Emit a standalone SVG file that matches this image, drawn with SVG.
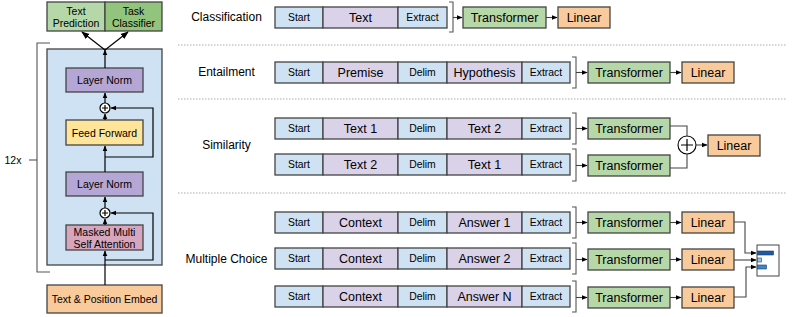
<svg xmlns="http://www.w3.org/2000/svg" width="800" height="317" viewBox="0 0 800 317">
<defs>
<marker id="ah" viewBox="0 0 10 10" refX="9" refY="5" markerWidth="6" markerHeight="6" markerUnits="userSpaceOnUse" orient="auto"><path d="M0,1 L10,5 L0,9 z" fill="#000"/></marker>
<marker id="ah2" viewBox="0 0 10 10" refX="9" refY="5" markerWidth="8" markerHeight="8" markerUnits="userSpaceOnUse" orient="auto"><path d="M0,1 L10,5 L0,9 z" fill="#000"/></marker>
</defs>
<style>
text{font-family:"Liberation Sans",Arial,sans-serif;fill:#000;text-anchor:middle;dominant-baseline:central}
.b{stroke:#444;stroke-width:1.3}
.tok{fill:#cfe2f3}
.pur{fill:#d9d2e9}
.tr{fill:#b6d7a8}
.lin{fill:#f9cb9c}
.s{font-size:10.4px}
.m{font-size:12.5px}
.t{font-size:12px}
.l{font-size:10.5px}
.ln{fill:none;stroke:#000;stroke-width:1.2}
.lnh{fill:none;stroke:#444;stroke-width:1.1}
.br{fill:none;stroke:#555;stroke-width:1.1}
.sep{stroke:#aaa;stroke-width:1;stroke-dasharray:1.5 1.5}
</style>
<rect width="800" height="317" fill="#fff"/>

<g id="heads">
<rect x="47" y="2" width="58" height="29" fill="#b6d7a8" class="b"/>
<rect x="105" y="2" width="57" height="29" fill="#93c47d" class="b"/>
<text class="l" x="76" y="11">Text</text><text class="l" x="76" y="23">Prediction</text>
<text class="l" x="133.5" y="11">Task</text><text class="l" x="133.5" y="23">Classifier</text>
</g>
<g id="bracket12x">
<path class="br" d="M50,43 H37 V272 H50"/>
<path class="br" d="M29,160 H37"/>
<text x="13" y="160" class="l">12x</text>
</g>
<g id="block">
<rect x="47" y="49" width="115" height="216" fill="#cfe2f3" class="b"/>
</g>
<g id="layernorm1"><rect x="66" y="68" width="77" height="24" fill="#b4a7d6" class="b"/><text class="l" x="104.5" y="80">Layer Norm</text></g>
<g id="add1"><circle cx="105" cy="108" r="5" fill="#fff" stroke="#000" stroke-width="1.2"/><path d="M102,108 H108 M105,105 V111" stroke="#000" stroke-width="1.2"/></g>
<g id="ffn"><rect x="66" y="120" width="77" height="25" fill="#ffe599" class="b"/><text class="l" x="104.5" y="132.5">Feed Forward</text></g>
<g id="layernorm2"><rect x="66" y="172" width="77" height="24" fill="#b4a7d6" class="b"/><text class="l" x="104.5" y="184">Layer Norm</text></g>
<g id="add2"><circle cx="105" cy="213" r="5" fill="#fff" stroke="#000" stroke-width="1.2"/><path d="M102,213 H108 M105,210 V216" stroke="#000" stroke-width="1.2"/></g>
<g id="attn"><rect x="66" y="225" width="77" height="25" fill="#d5a6bd" class="b"/><text class="l" x="104.5" y="231.5">Masked Multi</text><text class="l" x="104.5" y="243.5">Self Attention</text></g>
<g id="embed"><rect x="47" y="285" width="115" height="28" fill="#f9cb9c" class="b"/><text class="l" x="104.5" y="299">Text &amp; Position Embed</text></g>

<g id="left-connectors">
<path class="ln" d="M105,285 V251" marker-end="url(#ah)"/>
<path class="ln" d="M105,225 V219" marker-end="url(#ah)"/>
<path class="ln" d="M105,260 H153 V213 H111" marker-end="url(#ah)"/>
<path class="ln" d="M105,208 V197" marker-end="url(#ah)"/>
<path class="ln" d="M105,172 V146" marker-end="url(#ah)"/>
<path class="ln" d="M105,120 V114" marker-end="url(#ah)"/>
<path class="ln" d="M105,157 H153 V108 H111" marker-end="url(#ah)"/>
<path class="ln" d="M105,103 V93" marker-end="url(#ah)"/>
<path class="ln" d="M105,68 V50" marker-end="url(#ah)"/>
<path class="ln" d="M105,50 L82,32" marker-end="url(#ah2)"/>
<path class="ln" d="M105,50 L128,32" marker-end="url(#ah2)"/>
</g>

<g id="separators">
<line class="sep" x1="178" y1="45" x2="786" y2="45"/>
<line class="sep" x1="178" y1="99" x2="786" y2="99"/>
<line class="sep" x1="178" y1="193" x2="786" y2="193"/>
</g>

<g id="labels">
<text class="t" x="226.5" y="17">Classification</text>
<text class="t" x="226.5" y="72">Entailment</text>
<text class="t" x="226.5" y="145">Similarity</text>
<text class="t" x="226.5" y="259">Multiple Choice</text>
</g>

<g id="cls-input">
<rect x="275" y="7" width="48" height="21" class="tok b"/><text class="s" x="299" y="17.5">Start</text>
<rect x="323" y="7" width="75" height="21" class="pur b"/><text class="m" x="360.5" y="17.5">Text</text>
<rect x="398" y="7" width="49" height="21" class="tok b"/><text class="s" x="422.5" y="17.5">Extract</text>
</g>
<g id="cls-transformer"><rect x="463" y="7" width="83" height="21" class="tr b"/><text class="m" x="504.5" y="17.5">Transformer</text></g>
<g id="cls-linear"><rect x="558" y="7" width="52" height="21" class="lin b"/><text class="m" x="584" y="17.5">Linear</text></g>

<g id="ent-input">
<rect x="275" y="62" width="48" height="21" class="tok b"/><text class="s" x="299" y="72.5">Start</text>
<rect x="323" y="62" width="75" height="21" class="pur b"/><text class="m" x="360.5" y="72.5">Premise</text>
<rect x="398" y="62" width="49" height="21" class="tok b"/><text class="s" x="422.5" y="72.5">Delim</text>
<rect x="447" y="62" width="75" height="21" class="pur b"/><text class="m" x="484.5" y="72.5">Hypothesis</text>
<rect x="522" y="62" width="48" height="21" class="tok b"/><text class="s" x="546" y="72.5">Extract</text>
</g>
<g id="ent-transformer"><rect x="588" y="62" width="82" height="21" class="tr b"/><text class="m" x="629" y="72.5">Transformer</text></g>
<g id="ent-linear"><rect x="682" y="62" width="52" height="21" class="lin b"/><text class="m" x="708" y="72.5">Linear</text></g>

<g id="sim-input1">
<rect x="275" y="118" width="48" height="21" class="tok b"/><text class="s" x="299" y="128.5">Start</text>
<rect x="323" y="118" width="75" height="21" class="pur b"/><text class="m" x="360.5" y="128.5">Text 1</text>
<rect x="398" y="118" width="49" height="21" class="tok b"/><text class="s" x="422.5" y="128.5">Delim</text>
<rect x="447" y="118" width="75" height="21" class="pur b"/><text class="m" x="484.5" y="128.5">Text 2</text>
<rect x="522" y="118" width="48" height="21" class="tok b"/><text class="s" x="546" y="128.5">Extract</text>
</g>
<g id="sim-input2">
<rect x="275" y="154" width="48" height="21" class="tok b"/><text class="s" x="299" y="164.5">Start</text>
<rect x="323" y="154" width="75" height="21" class="pur b"/><text class="m" x="360.5" y="164.5">Text 2</text>
<rect x="398" y="154" width="49" height="21" class="tok b"/><text class="s" x="422.5" y="164.5">Delim</text>
<rect x="447" y="154" width="75" height="21" class="pur b"/><text class="m" x="484.5" y="164.5">Text 1</text>
<rect x="522" y="154" width="48" height="21" class="tok b"/><text class="s" x="546" y="164.5">Extract</text>
</g>
<g id="sim-transformer1"><rect x="588" y="118" width="82" height="21" class="tr b"/><text class="m" x="629" y="128.5">Transformer</text></g>
<g id="sim-transformer2"><rect x="588" y="155" width="82" height="21" class="tr b"/><text class="m" x="629" y="165.5">Transformer</text></g>
<g id="sim-add"><circle cx="687" cy="145" r="9" fill="#fff" stroke="#000" stroke-width="1.1"/><path d="M681,145 H693 M687,139 V151" stroke="#000" stroke-width="1.2"/></g>
<g id="sim-linear"><rect x="708" y="135" width="52" height="21" class="lin b"/><text class="m" x="734" y="145.5">Linear</text></g>

<g id="mc-input1">
<rect x="275" y="212" width="48" height="21" class="tok b"/><text class="s" x="299" y="222.5">Start</text>
<rect x="323" y="212" width="75" height="21" class="pur b"/><text class="m" x="360.5" y="222.5">Context</text>
<rect x="398" y="212" width="49" height="21" class="tok b"/><text class="s" x="422.5" y="222.5">Delim</text>
<rect x="447" y="212" width="75" height="21" class="pur b"/><text class="m" x="484.5" y="222.5">Answer 1</text>
<rect x="522" y="212" width="48" height="21" class="tok b"/><text class="s" x="546" y="222.5">Extract</text>
</g>
<g id="mc-input2">
<rect x="275" y="248" width="48" height="21" class="tok b"/><text class="s" x="299" y="258.5">Start</text>
<rect x="323" y="248" width="75" height="21" class="pur b"/><text class="m" x="360.5" y="258.5">Context</text>
<rect x="398" y="248" width="49" height="21" class="tok b"/><text class="s" x="422.5" y="258.5">Delim</text>
<rect x="447" y="248" width="75" height="21" class="pur b"/><text class="m" x="484.5" y="258.5">Answer 2</text>
<rect x="522" y="248" width="48" height="21" class="tok b"/><text class="s" x="546" y="258.5">Extract</text>
</g>
<g id="mc-input3">
<rect x="275" y="286" width="48" height="21" class="tok b"/><text class="s" x="299" y="296.5">Start</text>
<rect x="323" y="286" width="75" height="21" class="pur b"/><text class="m" x="360.5" y="296.5">Context</text>
<rect x="398" y="286" width="49" height="21" class="tok b"/><text class="s" x="422.5" y="296.5">Delim</text>
<rect x="447" y="286" width="75" height="21" class="pur b"/><text class="m" x="484.5" y="296.5">Answer N</text>
<rect x="522" y="286" width="48" height="21" class="tok b"/><text class="s" x="546" y="296.5">Extract</text>
</g>
<g id="mc-transformer1"><rect x="588" y="212" width="82" height="21" class="tr b"/><text class="m" x="629" y="222.5">Transformer</text></g>
<g id="mc-transformer2"><rect x="588" y="249" width="82" height="21" class="tr b"/><text class="m" x="629" y="259.5">Transformer</text></g>
<g id="mc-transformer3"><rect x="588" y="287" width="82" height="21" class="tr b"/><text class="m" x="629" y="297.5">Transformer</text></g>
<g id="mc-linear1"><rect x="682" y="212" width="52" height="21" class="lin b"/><text class="m" x="708" y="222.5">Linear</text></g>
<g id="mc-linear2"><rect x="682" y="249" width="52" height="21" class="lin b"/><text class="m" x="708" y="259.5">Linear</text></g>
<g id="mc-linear3"><rect x="682" y="287" width="52" height="21" class="lin b"/><text class="m" x="708" y="297.5">Linear</text></g>
<g id="softmax">
<rect x="757" y="245" width="22" height="31" fill="#fff" stroke="#444" stroke-width="1"/>
<rect x="757.5" y="251" width="16" height="4" fill="#1f5aa0" stroke="#1a3d6e" stroke-width="0.6"/>
<rect x="757.5" y="258" width="4" height="4" fill="#9fc5e8" stroke="#1a3d6e" stroke-width="0.6"/>
<rect x="757.5" y="265" width="9" height="4" fill="#3d85c6" stroke="#1a3d6e" stroke-width="0.6"/>
</g>

<g id="connectors">
<path class="br" d="M449,2 H453 V32 H449"/>
<path class="br" d="M572,57 H576 V88 H572"/>
<path class="br" d="M572,113 H576 V144 H572"/>
<path class="br" d="M572,149 H576 V181 H572"/>
<path class="br" d="M572,207 H576 V238 H572"/>
<path class="br" d="M572,243 H576 V274 H572"/>
<path class="br" d="M572,281 H576 V312 H572"/>
<path class="lnh" d="M453,17.5 H462" marker-end="url(#ah)"/>
<path class="lnh" d="M546,17.5 H557" marker-end="url(#ah)"/>
<path class="lnh" d="M576,72.5 H587" marker-end="url(#ah)"/>
<path class="lnh" d="M670,72.5 H681" marker-end="url(#ah)"/>
<path class="lnh" d="M576,128.5 H587" marker-end="url(#ah)"/>
<path class="lnh" d="M576,165.5 H587" marker-end="url(#ah)"/>
<path class="lnh" d="M670,126 H687 V136"/>
<path class="lnh" d="M670,168 H687 V154"/>
<path class="lnh" d="M696,145 H707" marker-end="url(#ah)"/>
<path class="lnh" d="M576,222.5 H587" marker-end="url(#ah)"/>
<path class="lnh" d="M670,222.5 H681" marker-end="url(#ah)"/>
<path class="lnh" d="M576,259.5 H587" marker-end="url(#ah)"/>
<path class="lnh" d="M670,259.5 H681" marker-end="url(#ah)"/>
<path class="lnh" d="M576,297.5 H587" marker-end="url(#ah)"/>
<path class="lnh" d="M670,297.5 H681" marker-end="url(#ah)"/>
<path class="lnh" d="M734,222 H745 V253 H756" marker-end="url(#ah)"/>
<path class="lnh" d="M734,260 H756" marker-end="url(#ah)"/>
<path class="lnh" d="M734,297 H746 V267 H756" marker-end="url(#ah)"/>
</g>
</svg>
